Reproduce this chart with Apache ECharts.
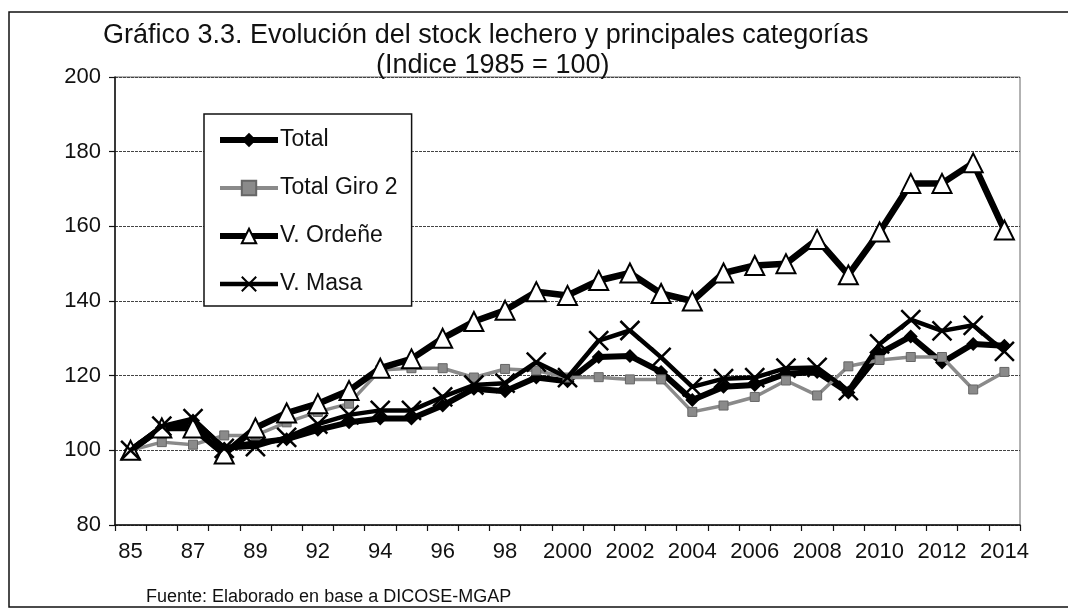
<!DOCTYPE html>
<html>
<head>
<meta charset="utf-8">
<script src="https://cdn.jsdelivr.net/npm/echarts@6/dist/echarts.min.js"></script>
<style>
  html, body { margin: 0; padding: 0; background: #fff; }
  #chart { width: 1068px; height: 612px; }
</style>
</head>
<body>
<div id="chart"></div>
<script>
const categories = ['85','86','87','88','89','90','92','93','94','95','96','97','98','99',
  '2000','2001','2002','2003','2004','2005','2006','2007','2008','2009','2010','2011','2012','2013','2014'];
const total = [100, 106, 108, 100.5, 102, 103, 105.5, 107.5, 108.5, 108.5, 112, 116.5, 115.8, 119.5, 118.5,
  125, 125.3, 121, 113.5, 117, 117.5, 120.5, 121, 115.5, 126, 130.5, 123.5, 128.5, 128];
const totalGiro2 = [100, 102.2, 101.5, 104, 104, 107.5, 110.3, 112.5, 121.5, 122, 122, 119.5, 121.8, 121.4, 119.5,
  119.6, 119, 119, 110.3, 112, 114.3, 118.7, 114.7, 122.5, 124.2, 125, 125, 116.3, 121];
const vOrdene = [100, 106, 106, 99, 106, 110, 112.5, 116, 122, 124.5, 130, 134.5, 137.5, 142.5, 141.5,
  145.5, 147.5, 142, 140, 147.5, 149.5, 150, 156.5, 147, 158.5, 171.5, 171.5, 177, 159];
const vMasa = [100, 106.5, 108.5, 100.5, 101, 103.5, 107, 109.5, 110.7, 110.7, 114.3, 117.5, 118, 123.6, 119.5,
  129.4, 132.1, 124.9, 117, 119.2, 119.5, 122, 122.2, 116, 128.5, 135, 132, 133.5, 126.5];
const yTicks = { min: 80, max: 200, interval: 20 };

const FONT = '"Liberation Sans", Arial, sans-serif';
const XPATH = 'path://M0,0L10,10M10,0L0,10';
const chart = echarts.init(document.getElementById('chart'), null, { renderer: 'canvas' });

chart.setOption({
  animation: false,
  backgroundColor: '#ffffff',
  title: [
    { text: 'Gráfico 3.3. Evolución del stock lechero y principales categorías', left: 98, top: 17,
      textStyle: { fontFamily: FONT, fontSize: 27, fontWeight: 'normal', color: '#111' } },
    { text: '(Indice 1985 = 100)', left: 371, top: 47,
      textStyle: { fontFamily: FONT, fontSize: 27, fontWeight: 'normal', color: '#111' } }
  ],
  graphic: [
    { type: 'polyline', shape: { points: [[1068, 12], [9, 12], [9, 607], [1068, 607]] },
      style: { stroke: '#111', lineWidth: 1.5, fill: null }, z: 100 },
    { type: 'text', left: 146, top: 588,
      style: { text: 'Fuente: Elaborado en base a DICOSE-MGAP', fontFamily: FONT, fontSize: 18, fill: '#111' } }
  ],
  grid: { left: 115, right: 48, top: 77, bottom: 87, show: true, borderColor: '#666', borderWidth: 1 },
  legend: {
    orient: 'vertical', left: 204, top: 114,
    padding: [14, 14, 10, 13],
    itemWidth: 58, itemHeight: 18, itemGap: 24,
    backgroundColor: '#fff',
    borderColor: '#111', borderWidth: 1.5,
    textStyle: { fontFamily: FONT, fontSize: 23, color: '#111', lineHeight: 24, padding: [0, 0, 0, -3] },
    data: [
      { name: 'Total', lineStyle: { width: 6, color: '#000' } },
      { name: 'Total Giro 2', lineStyle: { width: 4, color: '#8a8a8a' } },
      { name: 'V. Ordeñe', lineStyle: { width: 6, color: '#000' } },
      { name: 'V. Masa', lineStyle: { width: 4.5, color: '#000' } }
    ]
  },
  xAxis: {
    type: 'category', data: categories, boundaryGap: true,
    axisLine: { lineStyle: { color: '#111', width: 1.5 } },
    axisTick: { show: true, interval: 0, length: 6, lineStyle: { color: '#111', width: 1.2 } },
    axisLabel: { interval: 1, margin: 16, fontFamily: FONT, fontSize: 22, color: '#111' },
    splitLine: { show: false }
  },
  yAxis: {
    type: 'value', min: yTicks.min, max: yTicks.max, interval: yTicks.interval,
    axisLine: { show: true, lineStyle: { color: '#111', width: 1.5 } },
    axisTick: { show: true, length: 6, lineStyle: { color: '#111', width: 1.2 } },
    axisLabel: { margin: 14, fontFamily: FONT, fontSize: 22, color: '#111' },
    splitLine: { show: true, lineStyle: { color: '#444', width: 1, type: [3, 1] } }
  },
  series: [
    { name: 'Total', type: 'line', data: total, symbol: 'diamond', symbolSize: 14,
      lineStyle: { color: '#000', width: 6 }, itemStyle: { color: '#000' }, z: 3 },
    { name: 'Total Giro 2', type: 'line', data: totalGiro2, symbol: 'rect', symbolSize: 9,
      lineStyle: { color: '#8a8a8a', width: 3.5 }, itemStyle: { color: '#8a8a8a', borderColor: '#666', borderWidth: 1 }, z: 4 },
    { name: 'V. Ordeñe', type: 'line', data: vOrdene, symbol: 'triangle', symbolSize: 19,
      lineStyle: { color: '#000', width: 6.5 }, itemStyle: { color: '#fff', borderColor: '#000', borderWidth: 2 }, z: 5 },
    { name: 'V. Masa', type: 'line', data: vMasa, symbol: XPATH, symbolSize: 19,
      lineStyle: { color: '#000', width: 4.5 }, itemStyle: { color: 'none', borderColor: '#000', borderWidth: 2.5 }, z: 6 }
  ]
});
</script>
</body>
</html>
